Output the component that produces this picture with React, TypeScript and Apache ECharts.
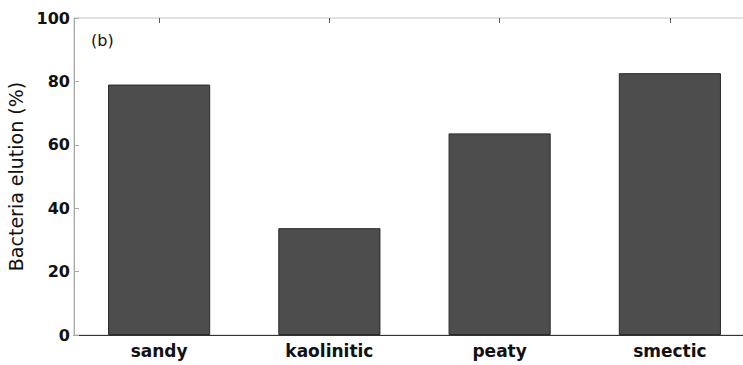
import React, { useEffect, useRef } from "react";
import * as echarts from "echarts";

const categories = ["sandy", "kaolinitic", "peaty", "smectic"];
const elution = [79.0, 33.7, 63.6, 82.6];
const yTicks = [0, 20, 40, 60, 80, 100];
const panelLabel = "(b)";
const yName = "Bacteria elution (%)";

export default function App() {
  const ref = useRef<HTMLDivElement>(null);
  useEffect(() => {
    document.body.style.margin = "0";
    const chart = echarts.init(ref.current!, null, { renderer: "svg" });
    const font = "DejaVu Sans, Arial, sans-serif";
    chart.setOption({
      animation: false,
      backgroundColor: "#ffffff",
      grid: {
        left: 74,
        top: 18,
        width: 681,
        height: 317,
        show: true,
        borderColor: "#c4c4c4",
        borderWidth: 1,
        outerBoundsMode: "none",
        containLabel: false,
      },
      xAxis: [
        {
          type: "category",
          data: categories,
          position: "bottom",
          axisLine: { lineStyle: { color: "#333", width: 1 } },
          axisTick: { show: false },
          axisLabel: {
            fontFamily: font,
            fontWeight: "bold",
            fontSize: 17,
            color: "#111",
            margin: 7,
          },
        },
        {
          type: "category",
          data: categories,
          position: "top",
          axisLine: { show: false },
          axisTick: { show: true, inside: true, alignWithLabel: true, length: 5, lineStyle: { color: "#555" } },
          axisLabel: { show: false },
        },
      ],
      yAxis: [
        {
          type: "value",
          min: yTicks[0],
          max: yTicks[yTicks.length - 1],
          interval: 20,
          name: yName,
          nameLocation: "middle",
          nameGap: 39,
          nameTextStyle: { fontFamily: font, fontSize: 19, color: "#111" },
          axisLine: { show: true, lineStyle: { color: "#aaa" } },
          axisTick: { show: true, inside: true, length: 5, lineStyle: { color: "#aaa" } },
          splitLine: { show: false },
          axisLabel: {
            fontFamily: font,
            fontWeight: "bold",
            fontSize: 16,
            color: "#111",
            margin: 4,
          },
        },
      ],
      graphic: [
        {
          type: "text",
          left: 91,
          top: 32,
          style: { text: panelLabel, font: `16px ${font}`, fill: "#111" },
        },
      ],
      series: [
        {
          type: "bar",
          data: elution,
          xAxisIndex: 0,
          yAxisIndex: 0,
          barCategoryGap: "40%",
          itemStyle: { color: "#4d4d4d", borderColor: "#2a2a2a", borderWidth: 1 },
        },
      ],
    });
    return () => chart.dispose();
  }, []);
  return <div ref={ref} style={{ width: 743, height: 365 }} />;
}
